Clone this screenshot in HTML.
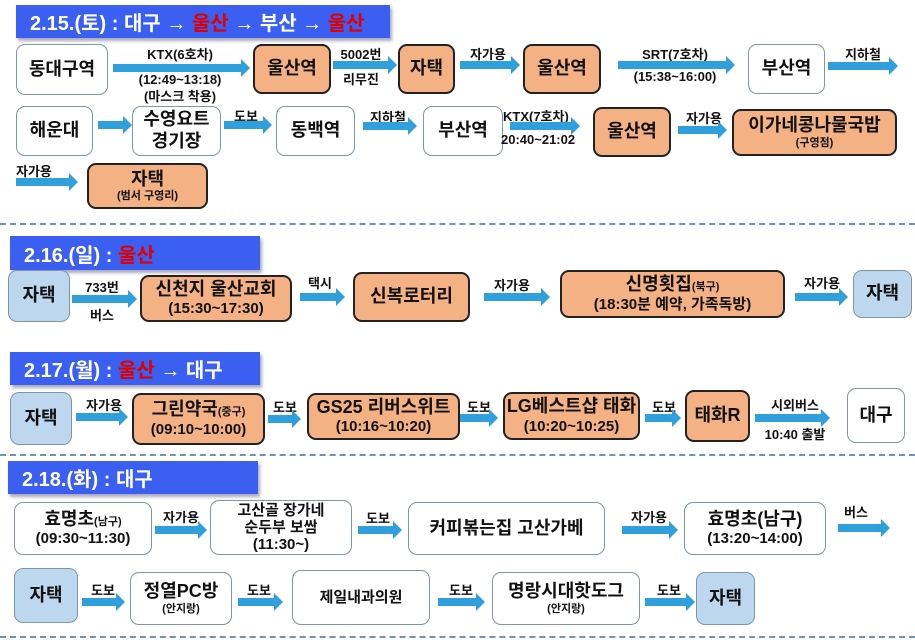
<!DOCTYPE html>
<html><head><meta charset="utf-8"><style>
body{margin:0;width:915px;height:643px;background:#fff;position:relative;overflow:hidden;font-family:"Liberation Sans","Noto Sans CJK KR","NanumGothic",sans-serif;font-weight:bold;color:#111}
.b{position:absolute;box-sizing:border-box;border-radius:9px;display:flex;flex-direction:column;align-items:center;justify-content:center;text-align:center;font-size:18px;line-height:1.2}
.w{background:#fff;border:1.5px solid #7f95a8}
.o{background:#f4b183;border:2.5px solid #222}
.l{background:#bdd7ee;border:1.5px solid #7f95a8}
.s{font-size:11px}
.h{position:absolute;background:#3b5ff0;color:#fff;font-size:20px;box-sizing:border-box;padding-left:14px;display:flex;align-items:center;box-shadow:2px 3px 3px #aab}
.r{color:#e00000}
.a{position:absolute;height:8px;background:#2fa0dc}
.a::after{content:"";position:absolute;left:100%;top:-5px;border-left:9px solid #2fa0dc;border-top:9px solid transparent;border-bottom:9px solid transparent}
.t{position:absolute;font-size:13px;text-align:center;white-space:nowrap}
.d{position:absolute;left:0;width:915px;border-top:2.5px dashed #6d93b5}
</style></head><body>

<div class="h" style="left:16px;top:5px;width:374px;height:33px">2.15.(토) : 대구 → <span class="r">&nbsp;울산&nbsp;</span> → 부산 → <span class="r">&nbsp;울산</span></div>

<div class="b w" style="left:16px;top:44px;width:92px;height:51px">동대구역</div>
<div class="a" style="left:113px;top:64px;width:128px"></div>
<div class="t" style="left:110px;top:44px;width:140px">KTX(6호차)</div>
<div class="t" style="left:110px;top:72px;width:140px">(12:49~13:18)</div>
<div class="t" style="left:110px;top:86px;width:140px">(마스크 착용)</div>
<div class="b o" style="left:253px;top:44px;width:78px;height:50px">울산역</div>
<div class="t" style="left:333px;top:44px;width:56px">5002번</div>
<div class="t" style="left:333px;top:69px;width:56px">리무진</div>
<div class="a" style="left:333px;top:61px;width:55px"></div>
<div class="b o" style="left:398px;top:44px;width:57px;height:50px">자택</div>
<div class="t" style="left:458px;top:44px;width:60px">자가용</div>
<div class="a" style="left:460px;top:61px;width:51px"></div>
<div class="b o" style="left:523px;top:44px;width:78px;height:50px">울산역</div>
<div class="t" style="left:615px;top:44px;width:120px">SRT(7호차)</div>
<div class="a" style="left:618px;top:61px;width:108px"></div>
<div class="t" style="left:615px;top:69px;width:120px">(15:38~16:00)</div>
<div class="b w" style="left:748px;top:44px;width:77px;height:50px">부산역</div>
<div class="t" style="left:828px;top:44px;width:70px">지하철</div>
<div class="a" style="left:828px;top:62px;width:61px"></div>

<div class="b w" style="left:16px;top:106px;width:77px;height:50px">해운대</div>
<div class="a" style="left:98px;top:121px;width:25px"></div>
<div class="b w" style="left:132px;top:106px;width:89px;height:50px">수영요트<br>경기장</div>
<div class="t" style="left:224px;top:106px;width:44px">도보</div>
<div class="a" style="left:224px;top:121px;width:39px"></div>
<div class="b w" style="left:276px;top:106px;width:79px;height:50px">동백역</div>
<div class="t" style="left:363px;top:107px;width:50px">지하철</div>
<div class="a" style="left:363px;top:122px;width:45px"></div>
<div class="b w" style="left:423px;top:106px;width:80px;height:50px">부산역</div>
<div class="t" style="left:503px;top:106px;width:90px;text-align:left">KTX(7호차)</div>
<div class="a" style="left:510px;top:122px;width:61px"></div>
<div class="t" style="left:501px;top:132px;width:90px;text-align:left">20:40~21:02</div>
<div class="b o" style="left:593px;top:107px;width:78px;height:50px">울산역</div>
<div class="t" style="left:676px;top:108px;width:56px">자가용</div>
<div class="a" style="left:678px;top:126px;width:40px"></div>
<div class="b o" style="left:732px;top:109px;width:165px;height:47px">이가네콩나물국밥<span class="s">(구영점)</span></div>

<div class="t" style="left:16px;top:161px;width:50px;text-align:left">자가용</div>
<div class="a" style="left:16px;top:178px;width:53px"></div>
<div class="b o" style="left:87px;top:163px;width:121px;height:46px">자택<span class="s">(범서 구영리)</span></div>

<div class="d" style="top:223px"></div>

<div class="h" style="left:10px;top:236px;width:250px;height:34px">2.16.(일) : <span class="r">&nbsp;울산</span></div>
<div class="b l" style="left:8px;top:270px;width:62px;height:52px">자택</div>
<div class="t" style="left:74px;top:277px;width:56px">733번</div>
<div class="a" style="left:72px;top:295px;width:56px"></div>
<div class="t" style="left:74px;top:305px;width:56px">버스</div>
<div class="b o" style="left:140px;top:275px;width:152px;height:47px">신천지 울산교회<span style="font-size:15px">(15:30~17:30)</span></div>
<div class="t" style="left:298px;top:273px;width:44px">택시</div>
<div class="a" style="left:300px;top:293px;width:36px"></div>
<div class="b o" style="left:353px;top:272px;width:117px;height:50px">신복로터리</div>
<div class="t" style="left:482px;top:275px;width:60px">자가용</div>
<div class="a" style="left:484px;top:293px;width:57px"></div>
<div class="b o" style="left:560px;top:270px;width:225px;height:48px">신명횟집<span class="s" style="display:contents">(북구)</span><span style="font-size:15px">(18:30분 예약, 가족독방)</span></div>
<div class="t" style="left:796px;top:273px;width:52px">자가용</div>
<div class="a" style="left:795px;top:293px;width:44px"></div>
<div class="b l" style="left:853px;top:270px;width:59px;height:48px">자택</div>

<div class="h" style="left:10px;top:352px;width:250px;height:33px">2.17.(월) : <span class="r">&nbsp;울산&nbsp;</span> → 대구</div>
<div class="b l" style="left:10px;top:392px;width:62px;height:53px">자택</div>
<div class="t" style="left:78px;top:395px;width:52px">자가용</div>
<div class="a" style="left:76px;top:413px;width:43px"></div>
<div class="b o" style="left:132px;top:393px;width:133px;height:52px">그린약국<span class="s" style="display:contents">(중구)</span><span style="font-size:15px">(09:10~10:00)</span></div>
<div class="t" style="left:268px;top:397px;width:34px">도보</div>
<div class="a" style="left:268px;top:415px;width:24px"></div>
<div class="b o" style="left:307px;top:393px;width:153px;height:47px">GS25 리버스위트<span style="font-size:15px">(10:16~10:20)</span></div>
<div class="t" style="left:461px;top:397px;width:36px">도보</div>
<div class="a" style="left:460px;top:414px;width:29px"></div>
<div class="b o" style="left:503px;top:392px;width:137px;height:48px">LG베스트샵 태화<span style="font-size:15px">(10:20~10:25)</span></div>
<div class="t" style="left:645px;top:397px;width:38px">도보</div>
<div class="a" style="left:645px;top:414px;width:27px"></div>
<div class="b o" style="left:685px;top:390px;width:65px;height:52px">태화R</div>
<div class="t" style="left:755px;top:395px;width:80px">시외버스</div>
<div class="a" style="left:755px;top:414px;width:66px"></div>
<div class="t" style="left:755px;top:424px;width:80px">10:40 출발</div>
<div class="b w" style="left:847px;top:388px;width:58px;height:55px">대구</div>

<div class="d" style="top:454px"></div>

<div class="h" style="left:8px;top:461px;width:250px;height:33px">2.18.(화) : 대구</div>
<div class="b w" style="left:14px;top:502px;width:138px;height:53px">효명초<span class="s" style="display:contents">(남구)</span><span style="font-size:15px">(09:30~11:30)</span></div>
<div class="t" style="left:155px;top:507px;width:52px">자가용</div>
<div class="a" style="left:155px;top:526px;width:43px"></div>
<div class="b w" style="left:210px;top:500px;width:142px;height:55px;font-size:15px;line-height:1.15">고산골 장가네<br>순두부 보쌈<br>(11:30~)</div>
<div class="t" style="left:358px;top:508px;width:40px">도보</div>
<div class="a" style="left:358px;top:526px;width:35px"></div>
<div class="b w" style="left:408px;top:502px;width:197px;height:53px">커피볶는집 고산가베</div>
<div class="t" style="left:620px;top:507px;width:58px">자가용</div>
<div class="a" style="left:622px;top:526px;width:47px"></div>
<div class="b w" style="left:684px;top:502px;width:142px;height:53px">효명초(남구)<span style="font-size:15px">(13:20~14:00)</span></div>
<div class="t" style="left:836px;top:502px;width:40px">버스</div>
<div class="a" style="left:838px;top:524px;width:43px"></div>

<div class="b l" style="left:14px;top:568px;width:64px;height:55px">자택</div>
<div class="t" style="left:82px;top:580px;width:42px">도보</div>
<div class="a" style="left:82px;top:598px;width:34px"></div>
<div class="b w" style="left:130px;top:572px;width:102px;height:53px">정열PC방<span class="s">(안지랑)</span></div>
<div class="t" style="left:238px;top:580px;width:42px">도보</div>
<div class="a" style="left:238px;top:598px;width:36px"></div>
<div class="b w" style="left:292px;top:570px;width:138px;height:55px;font-size:15px">제일내과의원</div>
<div class="t" style="left:440px;top:580px;width:42px">도보</div>
<div class="a" style="left:438px;top:598px;width:38px"></div>
<div class="b w" style="left:492px;top:572px;width:148px;height:53px">명랑시대핫도그<span class="s">(안지랑)</span></div>
<div class="t" style="left:648px;top:580px;width:42px">도보</div>
<div class="a" style="left:645px;top:598px;width:41px"></div>
<div class="b l" style="left:696px;top:572px;width:59px;height:53px">자택</div>

<div class="d" style="top:636px"></div>
</body></html>
